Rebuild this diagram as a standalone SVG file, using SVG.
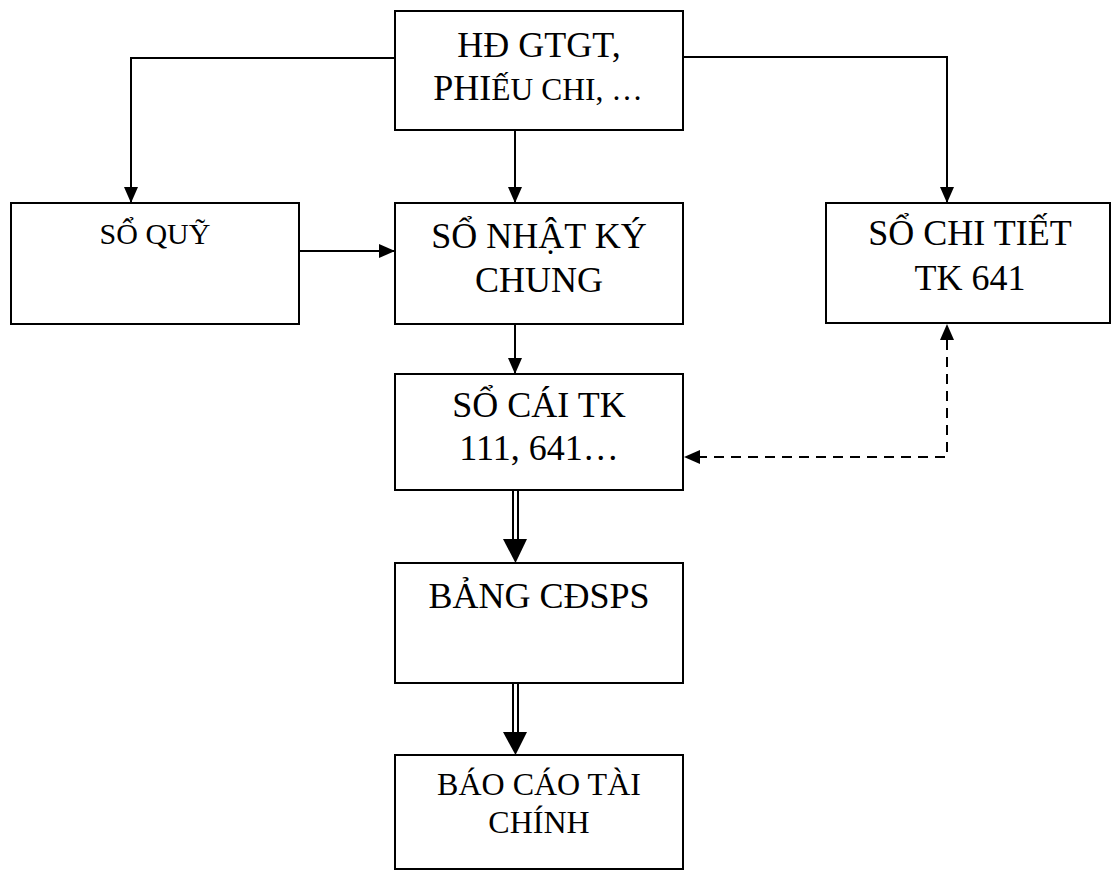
<svg xmlns="http://www.w3.org/2000/svg" width="1112" height="872" viewBox="0 0 1112 872">
  <defs>
    <marker id="arrow" viewBox="0 0 16 14" refX="16" refY="7" markerWidth="16" markerHeight="14" markerUnits="userSpaceOnUse" orient="auto">
      <path d="M0,0 L16,7 L0,14 z" fill="#000"/>
    </marker>
    <style>
      .box { fill: #fff; stroke: #000; stroke-width: 2; }
      .lbl { font-family: "Liberation Serif", "Times New Roman", serif; fill: #000; text-anchor: middle; }
      .big { font-size: 36px; }
      .mid { font-size: 32px; }
      .small { font-size: 30px; }
      .line { fill: none; stroke: #000; stroke-width: 2; }
      .arr { marker-end: url(#arrow); }
      .dash { stroke-dasharray: 10 7; }
    </style>
  </defs>
  <rect width="1112" height="872" fill="#fff"/>

  <!-- connectors -->
  <g id="connectors">
    <polyline class="line arr" points="395,58 131,58 131,203"/>
    <line class="line arr" x1="515" y1="130" x2="515" y2="203"/>
    <polyline class="line arr" points="683,57 947,57 947,203"/>
    <line class="line arr" x1="299" y1="251" x2="395" y2="251"/>
    <line class="line arr" x1="515" y1="324" x2="515" y2="374"/>
    <!-- two-way dashed link between detail ledger and general ledger -->
    <polyline class="line dash" points="947,340 947,457 700,457"/>
    <path d="M947,324 L940,340 L954,340 z" fill="#000"/>
    <path d="M684,457 L700,450 L700,464 z" fill="#000"/>
    <!-- double-line arrows -->
    <line class="line" x1="513" y1="490" x2="513" y2="540" stroke-width="1.6"/>
    <line class="line" x1="518" y1="490" x2="518" y2="540" stroke-width="1.6"/>
    <path d="M503,539 L527,539 L515.5,563 z" fill="#000"/>
    <line class="line" x1="513" y1="683" x2="513" y2="733" stroke-width="1.6"/>
    <line class="line" x1="518" y1="683" x2="518" y2="733" stroke-width="1.6"/>
    <path d="M503,732 L527,732 L515.5,755 z" fill="#000"/>
  </g>

  <g id="chung-tu">
    <rect class="box" x="395" y="11" width="288" height="119"/>
    <text class="lbl big" x="539" y="57">HĐ GTGT,</text>
    <text class="lbl" x="538" y="100"><tspan font-size="36">PHI</tspan><tspan font-size="31.5">ẾU CHI, …</tspan></text>
  </g>

  <g id="so-quy">
    <rect class="box" x="11" y="203" width="288" height="121"/>
    <text class="lbl small" x="155" y="244">SỔ QUỸ</text>
  </g>

  <g id="so-nhat-ky-chung">
    <rect class="box" x="395" y="203" width="288" height="121"/>
    <text class="lbl big" x="539" y="248">SỔ NHẬT KÝ</text>
    <text class="lbl big" x="539" y="292">CHUNG</text>
  </g>

  <g id="so-chi-tiet">
    <rect class="box" x="826" y="203" width="284" height="120"/>
    <text class="lbl big" x="970" y="245">SỔ CHI TIẾT</text>
    <text class="lbl big" x="970" y="290">TK 641</text>
  </g>

  <g id="so-cai">
    <rect class="box" x="395" y="374" width="288" height="116"/>
    <text class="lbl big" x="539" y="417">SỔ CÁI TK</text>
    <text class="lbl big" x="539" y="460">111, 641…</text>
  </g>

  <g id="bang-cdsps">
    <rect class="box" x="395" y="563" width="288" height="120"/>
    <text class="lbl big" x="539" y="608">BẢNG CĐSPS</text>
  </g>

  <g id="bao-cao-tai-chinh">
    <rect class="box" x="395" y="755" width="288" height="114"/>
    <text class="lbl mid" x="539" y="795">BÁO CÁO TÀI</text>
    <text class="lbl mid" x="539" y="833">CHÍNH</text>
  </g>
</svg>
